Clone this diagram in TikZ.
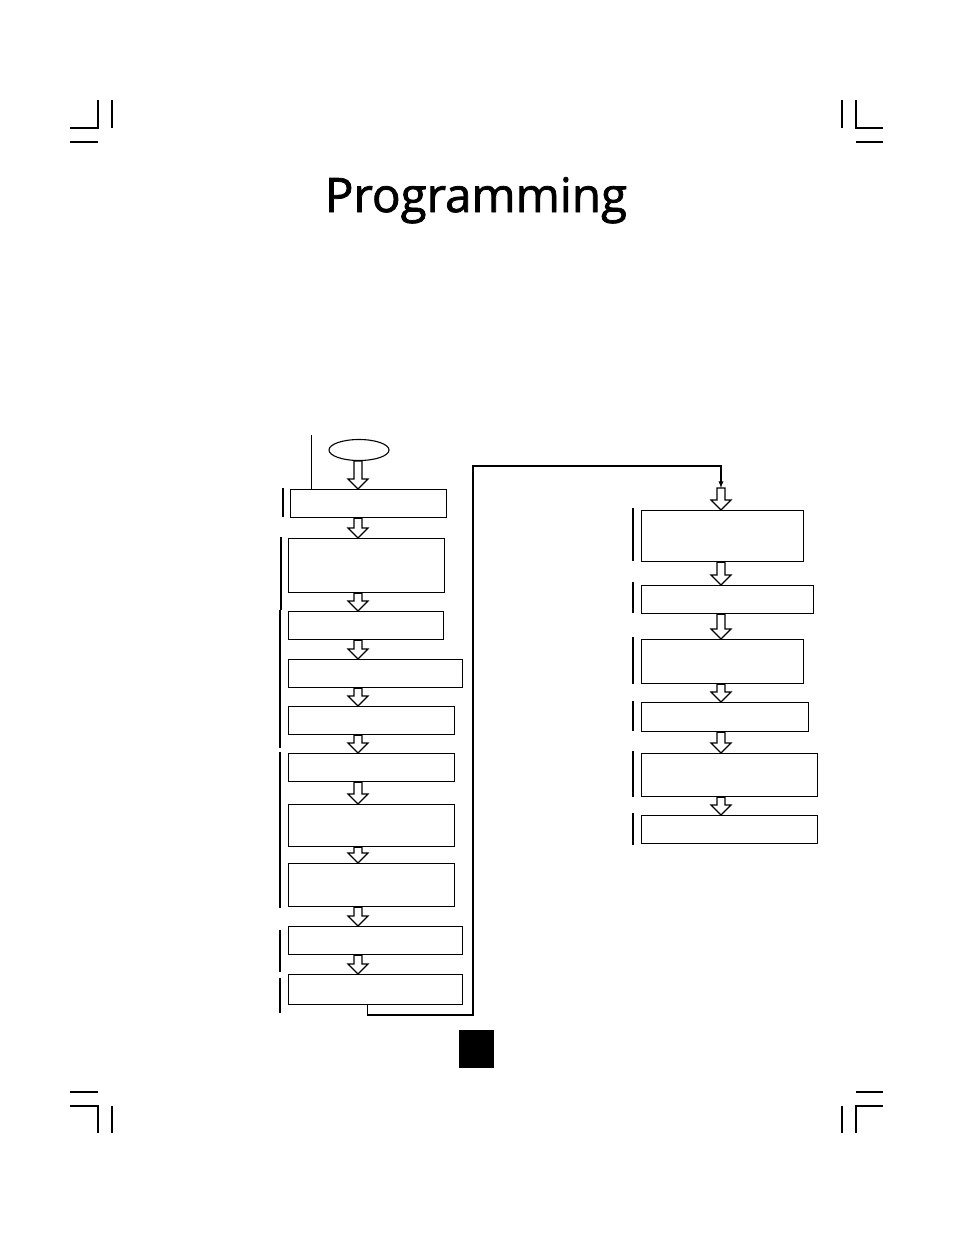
\documentclass[tikz,border=0pt]{standalone}
\usepackage{tikz}
\usepackage{xcolor}
\usepackage{fontspec}
\newfontfamily\titlefont{Open Sans}[FakeBold=1.6]
\usetikzlibrary{calc, shapes.geometric}

\newcommand{\hollowdown}[2]{%
    \draw [harrow] let \p1 = (#1), \p2 = (#2) in
        (\x1-4pt, \y1) -- (\x1-4pt, \y2+10pt) -- (\x1-10pt, \y2+10pt) -- (\x1, \y2)
        -- (\x1+10pt, \y2+10pt) -- (\x1+4pt, \y2+10pt) -- (\x1+4pt, \y1) -- cycle;}

\begin{document}
\begin{tikzpicture}[x=1pt, y=-1pt, >=latex,
    box/.style={rectangle, draw, line width=1.4pt, inner sep=0pt, anchor=north west},
    harrow/.style={draw, fill=white, line width=1.1pt, line join=miter},
    sidebar/.style={line width=1.4pt},
    cropmark/.style={line width=1.1pt}]
    \useasboundingbox (0, 0) rectangle (954, 1235);

    \node [anchor=base, inner sep=0pt, font=\titlefont\fontsize{47.5}{56}\selectfont] (title) at (476, 212) {Programming};

    \node [ellipse, draw, line width=1.1pt, minimum width=60, minimum height=21, inner sep=0pt] (start) at (359, 450) {};
    \node [box, minimum width=156, minimum height=28] (b1) at (290, 489) {};
    \node [box, minimum width=156, minimum height=54] (b2) at (288, 538) {};
    \node [box, minimum width=155, minimum height=28] (b3) at (288, 611) {};
    \node [box, minimum width=174, minimum height=28] (b4) at (288, 659) {};
    \node [box, minimum width=166, minimum height=28] (b5) at (288, 706) {};
    \node [box, minimum width=166, minimum height=28] (b6) at (288, 753) {};
    \node [box, minimum width=166, minimum height=42] (b7) at (288, 804) {};
    \node [box, minimum width=166, minimum height=43] (b8) at (288, 863) {};
    \node [box, minimum width=174, minimum height=28] (b9) at (288, 926) {};
    \node [box, minimum width=174, minimum height=30] (b10) at (288, 974) {};

    \node [box, minimum width=162, minimum height=51] (r1) at (641, 510) {};
    \node [box, minimum width=172, minimum height=28] (r2) at (641, 585) {};
    \node [box, minimum width=162, minimum height=44] (r3) at (641, 639) {};
    \node [box, minimum width=167, minimum height=29] (r4) at (641, 702) {};
    \node [box, minimum width=176, minimum height=43] (r5) at (641, 753) {};
    \node [box, minimum width=176, minimum height=28] (r6) at (641, 815) {};

    \coordinate (lcol) at (358, 0);
    \coordinate (rcol) at (721, 0);
    \coordinate (join) at (721, 488);
    \coordinate (tick) at (311, 435);

    \foreach \a/\b in {start/b1, b1/b2, b2/b3, b3/b4, b4/b5, b5/b6, b6/b7, b7/b8, b8/b9, b9/b10}
        \hollowdown{\a.south -| lcol}{\b.north -| lcol};
    \hollowdown{join}{r1.north -| rcol};
    \foreach \a/\b in {r1/r2, r2/r3, r3/r4, r4/r5, r5/r6}
        \hollowdown{\a.south -| rcol}{\b.north -| rcol};

    \draw [->, line width=1.3pt] ([xshift=-8pt]b10.south) |- (473, 1015) -- (473, 466) -| (join);
    \draw [line width=1pt] (tick) -- (tick |- b1.north);

    \foreach \x/\ya/\yb in {283/488/517, 281/537/610, 280/610/748, 280/752/908, 280/930/972, 280/978/1013,
        633/508/561, 633/582/613, 633/637/684, 633/701/731, 633/751/797, 633/813/845}
        \draw [sidebar] (\x, \ya) -- (\x, \yb);

    \fill (459, 1030) rectangle (494, 1068);

    \draw [cropmark] (70, 128) -- (98, 128) -- (98, 100) (112, 100) -- (112, 128) (70, 142) -- (98, 142);
    \draw [cropmark] (883, 128) -- (856, 128) -- (856, 100) (842, 100) -- (842, 128) (856, 142) -- (883, 142);
    \draw [cropmark] (70, 1092) -- (98, 1092) (70, 1106) -- (98, 1106) -- (98, 1133) (112, 1106) -- (112, 1133);
    \draw [cropmark] (856, 1092) -- (883, 1092) (883, 1106) -- (856, 1106) -- (856, 1133) (842, 1106) -- (842, 1133);
\end{tikzpicture}
\end{document}
